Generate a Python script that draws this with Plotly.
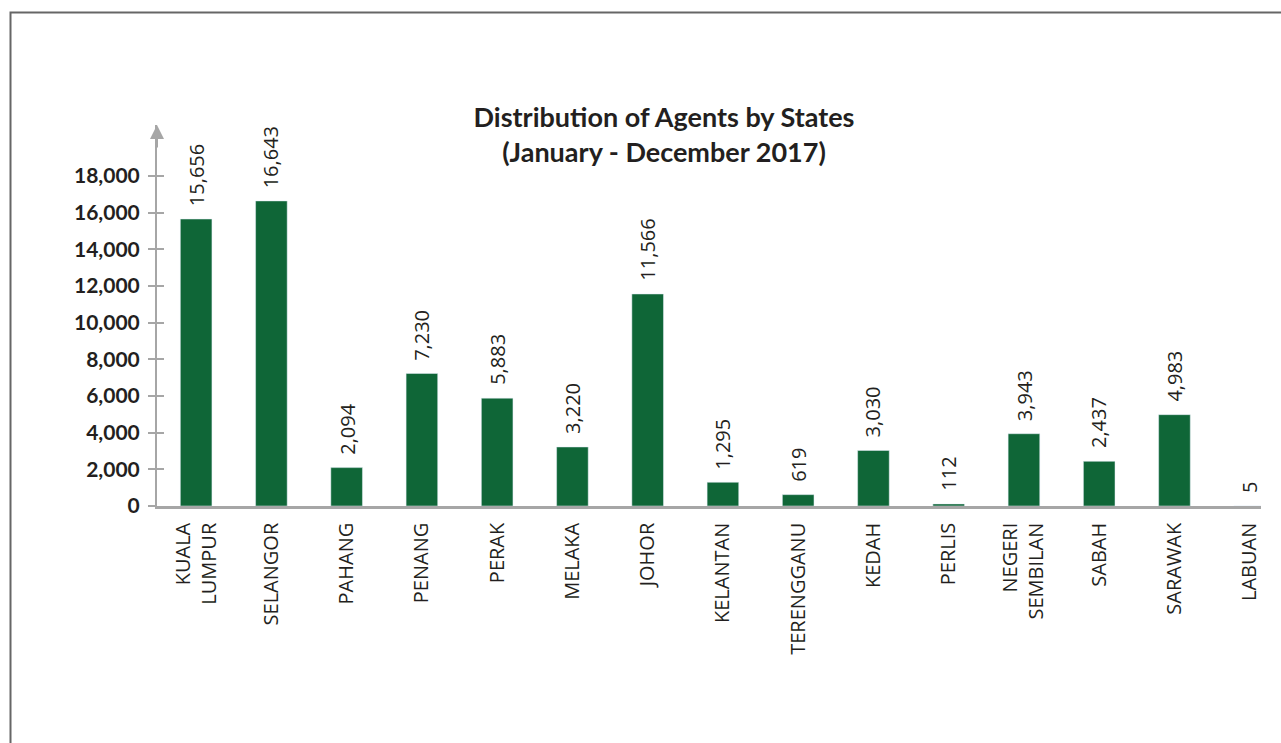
import plotly.graph_objects as go

states = ["KUALA LUMPUR", "SELANGOR", "PAHANG", "PENANG", "PERAK", "MELAKA", "JOHOR",
          "KELANTAN", "TERENGGANU", "KEDAH", "PERLIS", "NEGERI SEMBILAN", "SABAH",
          "SARAWAK", "LABUAN"]
agents = [15656, 16643, 2094, 7230, 5883, 3220, 11566, 1295, 619, 3030, 112, 3943, 2437, 4983, 5]
y_ticks = [0, 2000, 4000, 6000, 8000, 10000, 12000, 14000, 16000, 18000]
title_lines = ["Distribution of Agents by States", "(January - December 2017)"]

W, H = 1281, 743
L, R, T, B = 157, 20, 125, 237
pw, ph = W - L - R, H - T - B
YMAX = 20785
AX = "#a6a6a6"
TXT = "#231f20"
GREEN = "#0f6637"

ticktext = [s.replace(" ", "<br>") if s in ("KUALA LUMPUR", "NEGERI SEMBILAN") else s for s in states]

fig = go.Figure()
fig.add_trace(go.Bar(x=states, y=agents, marker_color=GREEN, width=0.42, showlegend=False,
                     hoverinfo="x+y"))

annotations = []
for s, v in zip(states, agents):
    annotations.append(dict(x=s, y=v, xref="x", yref="y", text=f"{v:,}", showarrow=False,
                            textangle=-90, yanchor="bottom", xanchor="center", yshift=11,
                            font=dict(family="Open Sans", size=20, color=TXT)))
# axis arrow
annotations.append(dict(x=0, y=YMAX, xref="paper", yref="y", ax=0, ay=24, axref="pixel",
                        ayref="pixel", text="", showarrow=True, arrowhead=2, arrowsize=1.4,
                        arrowwidth=2, arrowcolor=AX))

def px2paper_x(p):
    return (p - L) / pw

def px2paper_y(p):
    return (H - B - p) / ph

fig.update_layout(
    width=W, height=H,
    margin=dict(l=L, r=R, t=T, b=B),
    paper_bgcolor="white", plot_bgcolor="white",
    title=dict(text="<b>" + "<br>".join(title_lines) + "</b>", x=664 / W, xanchor="center",
               y=1 - 127 / H, yanchor="middle", yref="container",
               font=dict(family="Lato", size=27, color=TXT)),
    xaxis=dict(type="category", range=[-0.52, 14.15], tickvals=states, ticktext=ticktext,
               tickangle=-90, showline=True, linecolor=AX, linewidth=2.5, ticks="",
               showgrid=False, zeroline=False, ticklabelstandoff=6,
               tickfont=dict(family="Open Sans", size=20, color=TXT)),
    yaxis=dict(range=[0, YMAX], tickvals=y_ticks, tickformat=",", showline=True, linecolor=AX,
               linewidth=2, ticks="outside", ticklen=7, tickwidth=2, tickcolor=AX,
               showgrid=False, zeroline=False, ticklabelstandoff=4,
               tickfont=dict(family="Lato", size=21, color=TXT, weight="bold")),
    yaxis2=dict(range=[0, YMAX], overlaying="y", tickvals=y_ticks, ticks="inside", ticklen=7,
                tickwidth=2, tickcolor=AX, showticklabels=False, showgrid=False,
                zeroline=False, showline=False, side="left"),
    annotations=annotations,
    shapes=[dict(type="rect", xref="paper", yref="paper",
                 x0=px2paper_x(10.5), x1=px2paper_x(1320), y0=px2paper_y(780), y1=px2paper_y(12.5),
                 line=dict(color="#666666", width=2), fillcolor="rgba(0,0,0,0)", layer="below")],
)
fig.add_trace(go.Scatter(x=[states[0]], y=[0], yaxis="y2", mode="markers",
                         marker=dict(opacity=0), showlegend=False, hoverinfo="skip"))

fig.write_html("out.html", config={"displayModeBar": False},
               post_script="document.body.style.margin='0';document.body.style.overflow='hidden';")
